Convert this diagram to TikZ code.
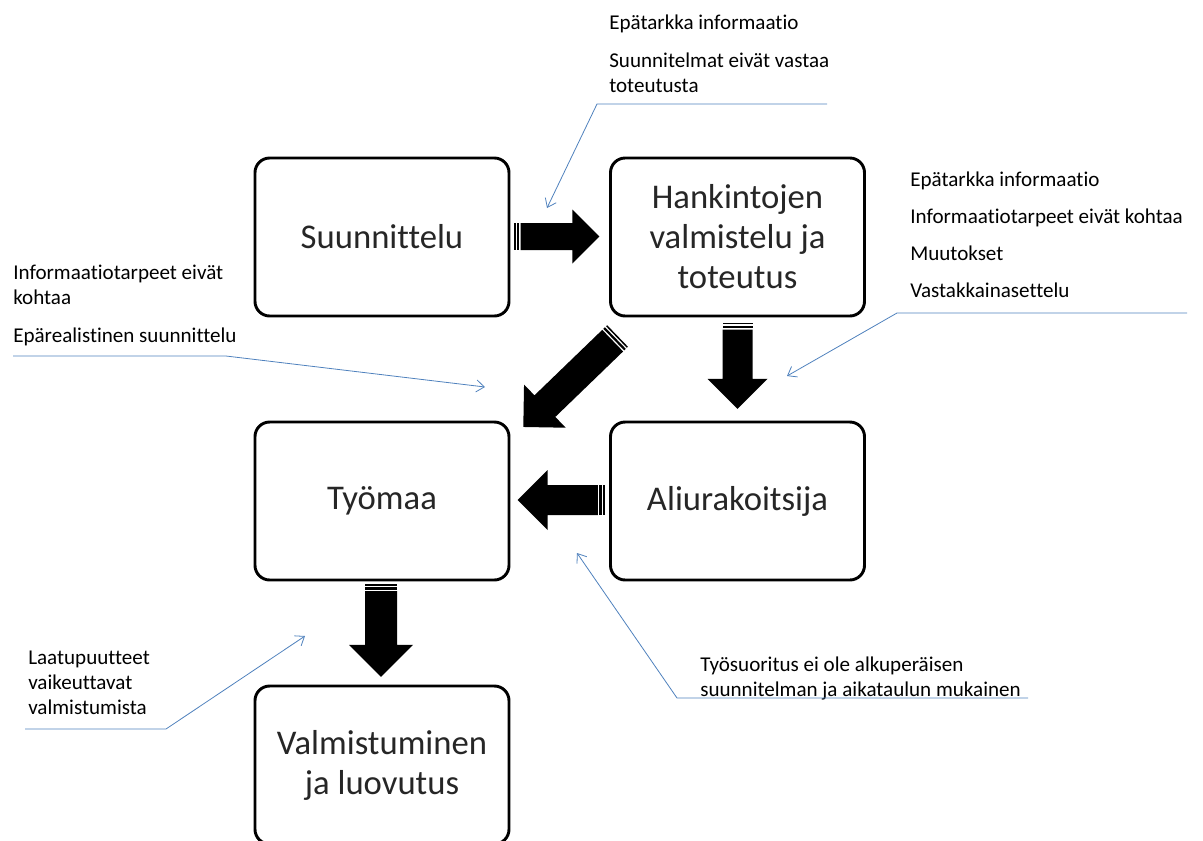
\documentclass[tikz,border=0pt]{standalone}
\usepackage{fontspec}
\setmainfont{Carlito}[Ligatures=CommonOff]
\usetikzlibrary{arrows.meta,calc}
\definecolor{viiva}{RGB}{79,129,189}
\tikzset{
  vaihe/.style={draw, line width=2.2pt, rounded corners=11pt, minimum width=190.5pt,
    minimum height=118.5pt, align=center, text=black!85, font=\fontsize{26}{30}\selectfont},
  huomio/.style={anchor=base west, inner sep=0pt, font=\fontsize{15.8}{19}\selectfont},
  kommentti/.style={draw=viiva, line width=0.6pt},
}
% striped block arrow: tail, angle, length, half width of the shaft
\newcommand{\raitanuoli}[4]{%
  \begin{scope}[shift={#1}, rotate=#2]
    \fill (0,-#4) rectangle (0.1*#4,#4);
    \fill (0.2*#4,-#4) rectangle (0.35*#4,#4);
    \fill (0.45*#4,-#4) -- (#3-2*#4,-#4) -- (#3-2*#4,-2*#4) -- (#3,0)
      -- (#3-2*#4,2*#4) -- (#3-2*#4,#4) -- (0.45*#4,#4) -- cycle;
  \end{scope}}

\begin{document}
\begin{tikzpicture}[x=0.75pt, y=-0.75pt, >={Straight Barb[length=6pt,width=9pt]}]
    \clip (0,0) rectangle (1203,840);

    % phases
    \node[vaihe] (suunnittelu) at (382,237) {Suunnittelu};
    \node[vaihe] (hankinnat) at (737.5,237) {Hankintojen\\valmistelu ja\\toteutus};
    \node[vaihe] (tyomaa) at (382,501) {Työmaa};
    \node[vaihe] (aliurakoitsija) at (737.5,501) {Aliurakoitsija};
    \node[vaihe] (valmistuminen) at (382,765) {Valmistuminen\\ja luovutus};

    % block arrows
    \raitanuoli{($(suunnittelu.east)+(4,-0.5)$)}{0}{85}{13.5}
    \raitanuoli{($(hankinnat.south)+(0,5.5)$)}{-90}{86}{15}
    \raitanuoli{($(aliurakoitsija.west)+(-4.5,-1)$)}{180}{87}{15}
    \raitanuoli{($(tyomaa.south)+(-1,2.5)$)}{-90}{93}{16}
    \raitanuoli{($(hankinnat.south west)+(8.5,18.5)$)}{-136}{131}{15}

    % comments
    \foreach \y/\teksti in {29/Epätarkka informaatio, 67/Suunnitelmat eivät vastaa, 92/toteutusta}
    {
        \node[huomio] (yla-\y) at (609,\y) {\teksti};
    }
    \foreach \y/\teksti in {186/Epätarkka informaatio, 223/Informaatiotarpeet eivät kohtaa, 260/Muutokset, 297/Vastakkainasettelu}
    {
        \node[huomio] (oik-\y) at (910,\y) {\teksti};
    }
    \foreach \y/\teksti in {279/Informaatiotarpeet eivät, 304/kohtaa, 342/Epärealistinen suunnittelu}
    {
        \node[huomio] (vas-\y) at (13,\y) {\teksti};
    }
    \foreach \y/\teksti in {664/Laatupuutteet, 689/vaikeuttavat, 714/valmistumista}
    {
        \node[huomio] (ala-\y) at (28,\y) {\teksti};
    }
    \foreach \y/\teksti in {671/Työsuoritus ei ole alkuperäisen, 696/suunnitelman ja aikataulun mukainen}
    {
        \node[huomio] (alo-\y) at (700,\y) {\teksti};
    }

    % pointer lines
    \coordinate (k1a) at (827,104);
    \coordinate (k1b) at (597,104);
    \coordinate (k1c) at (547,208);
    \coordinate (k2a) at (1187,313);
    \coordinate (k2b) at (897,313);
    \coordinate (k2c) at (787,376);
    \coordinate (k3a) at (13,356);
    \coordinate (k3b) at (226,356);
    \coordinate (k3c) at (485,387);
    \coordinate (k4a) at (25,729);
    \coordinate (k4b) at (166,729);
    \coordinate (k4c) at (305,636);
    \coordinate (k5a) at (1028,698);
    \coordinate (k5b) at (677,698);
    \coordinate (k5c) at (577,553);
    \foreach \k in {k1,k2,k3,k4,k5}
    {
        \draw[kommentti,->] (\k a) -- (\k b) -- (\k c);
    }
\end{tikzpicture}
\end{document}
